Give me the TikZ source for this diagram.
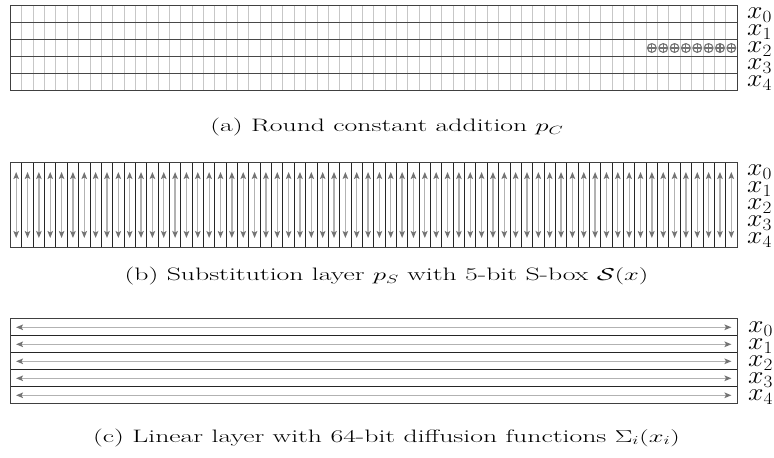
\documentclass[tikz,border=0pt]{standalone}
\usepackage{graphicx}
\usetikzlibrary{arrows.meta}
\newcommand{\wide}[2]{\scalebox{#1}[1]{#2}}
\begin{document}
\begin{tikzpicture}[x=1bp,y=-1bp,
  frame/.style={draw=black!75,line width=0.9bp},
  gridv/.style={draw=black!22,line width=0.9bp},
  rowline/.style={draw=black!72,line width=0.9bp},
  colline/.style={draw=black!85,line width=0.9bp},
  dbl/.style={draw=black!30,line width=1.3bp,
    {Stealth[length=7bp,width=5.5bp,inset=1.5bp,color=black!55]}-{Stealth[length=7bp,width=5.5bp,inset=1.5bp,color=black!55]}},
  xorsym/.style={draw=black!55,line width=1.1bp},
  lbl/.style={inner sep=0pt,anchor=base west,font=\fontsize{23bp}{27bp}\selectfont},
  captext/.style={inner sep=0pt,anchor=base,font=\fontsize{18bp}{22bp}\selectfont}]
\useasboundingbox (0,0) rectangle (774,458);
\pgfmathsetmacro{\L}{10.5}
\pgfmathsetmacro{\R}{737}
\pgfmathsetmacro{\w}{(\R-\L)/64}
\pgfmathsetmacro{\h}{17}
% ---------- (a) ----------
\pgfmathsetmacro{\ta}{5.5}
\foreach \i in {1,...,63} \draw[gridv] ({\L+\i*\w},\ta) -- ({\L+\i*\w},{\ta+5*\h});
\foreach \j in {1,...,4} \draw[rowline] (\L,{\ta+\j*\h}) -- (\R,{\ta+\j*\h});
\foreach \i in {56,...,63} {
  \draw[xorsym] ({\L+(\i+0.5)*\w},{\ta+2.5*\h}) circle (4.4);
  \draw[xorsym] ({\L+(\i+0.5)*\w-4.4},{\ta+2.5*\h}) -- ({\L+(\i+0.5)*\w+4.4},{\ta+2.5*\h});
  \draw[xorsym] ({\L+(\i+0.5)*\w},{\ta+2.5*\h-4.4}) -- ({\L+(\i+0.5)*\w},{\ta+2.5*\h+4.4});
}
\draw[frame] (\L,\ta) rectangle (\R,{\ta+5*\h});
\foreach \j in {0,...,4} \node[lbl] (la\j) at (747,{\ta+(\j+0.5)*\h+5}) {\wide{1.12}{$x_\j$}};
\node[captext] (capa) at (387,132) {\wide{1.54}{(a) Round constant addition $p_C$}};
% ---------- (b) ----------
\pgfmathsetmacro{\tb}{162.5}
\foreach \i in {0,...,63} \draw[dbl] ({\L+(\i+0.5)*\w},{\tb+9.5}) -- ({\L+(\i+0.5)*\w},{\tb+5*\h-9.5});
\foreach \i in {1,...,63} \draw[colline] ({\L+\i*\w},\tb) -- ({\L+\i*\w},{\tb+5*\h});
\draw[frame] (\L,\tb) rectangle (\R,{\tb+5*\h});
\foreach \j in {0,...,4} \node[lbl] (lb\j) at (747,{\tb+(\j+0.5)*\h+5}) {\wide{1.12}{$x_\j$}};
\node[captext] (capb) at (386.5,281) {\wide{1.54}{(b) Substitution layer $p_S$ with 5-bit S-box $\mathcal{S}(x)$}};
% ---------- (c) ----------
\pgfmathsetmacro{\tc}{318.8}
\foreach \j in {0,...,4} \draw[dbl] (16,{\tc+(\j+0.5)*\h}) -- (731.5,{\tc+(\j+0.5)*\h});
\foreach \j in {1,...,4} \draw[colline] (\L,{\tc+\j*\h}) -- (\R,{\tc+\j*\h});
\draw[frame] (\L,\tc) rectangle (\R,{\tc+5*\h});
\foreach \j in {0,...,4} \node[lbl] (lc\j) at (748,{\tc+(\j+0.5)*\h+5}) {\wide{1.12}{$x_\j$}};
\node[captext] (capc) at (386.5,442) {\wide{1.54}{(c) Linear layer with 64-bit diffusion functions $\Sigma_i(x_i)$}};
\end{tikzpicture}
\end{document}
